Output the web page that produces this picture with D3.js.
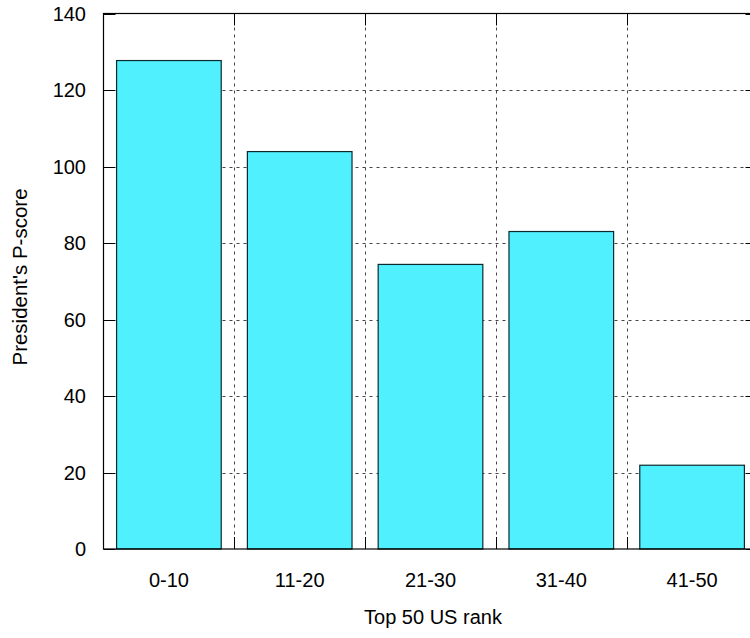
<!DOCTYPE html>
<html><head><meta charset="utf-8">
<script src="https://cdn.jsdelivr.net/npm/d3@7"></script>
<style>body{margin:0;background:#fff}svg{display:block}text{font-family:"Liberation Sans",Arial,sans-serif;fill:#000}</style>
</head><body>
<svg id="c" width="750" height="638"></svg>
<script>
const categories = ["0-10","11-20","21-30","31-40","41-50"];
const values = [127.7, 103.9, 74.4, 83.0, 21.9];
const yTicks = [0,20,40,60,80,100,120,140];
const xTitle = "Top 50 US rank";
const yTitle = "President's P-score";

const svg = d3.select("#c");
const L = 103.5, T = 13.5, B = 549, R = 757.5;
const x = d3.scaleLinear().domain([-0.5, 4.5]).range([L, R]);
const y = d3.scaleLinear().domain([0, 140]).range([B, T]);
const dash = "3,4";
const g = svg.append("g");

// grid
yTicks.slice(1, -1).forEach(t => {
  g.append("line").attr("x1", L).attr("x2", R).attr("y1", Math.round(y(t))+0.5).attr("y2", Math.round(y(t))+0.5)
    .attr("stroke", "#444").attr("stroke-dasharray", dash);
});
d3.range(0.5, 4.5, 1).forEach(t => {
  g.append("line").attr("x1", Math.round(x(t))+0.5).attr("x2", Math.round(x(t))+0.5).attr("y1", T).attr("y2", B)
    .attr("stroke", "#444").attr("stroke-dasharray", dash);
});
// ticks (inward)
yTicks.forEach(t => {
  const yy = Math.round(y(t))+0.5;
  g.append("line").attr("x1", L).attr("x2", L+12).attr("y1", yy).attr("y2", yy).attr("stroke", "#000");
  g.append("line").attr("x1", R-12).attr("x2", R).attr("y1", yy).attr("y2", yy).attr("stroke", "#000");
});
d3.range(0.5, 4.5, 1).forEach(t => {
  const xx = Math.round(x(t))+0.5;
  g.append("line").attr("x1", xx).attr("x2", xx).attr("y1", T).attr("y2", T+12).attr("stroke", "#000");
  g.append("line").attr("x1", xx).attr("x2", xx).attr("y1", B-12).attr("y2", B).attr("stroke", "#000");
});
// bars
g.selectAll("rect.bar").data(values).join("rect").attr("class","bar")
  .attr("x", (d,i) => x(i-0.4)).attr("width", x(0.8)-x(0))
  .attr("y", d => y(d)).attr("height", d => B - y(d))
  .attr("fill", "#50F0FF").attr("stroke", "#0a2a2e").attr("stroke-width", 1.2);
// frame
g.append("rect").attr("x", L).attr("y", T).attr("width", R-L).attr("height", B-T)
  .attr("fill", "none").attr("stroke", "#000").attr("stroke-width", 1.2);
// y tick labels
g.selectAll("text.yt").data(yTicks).join("text").attr("class","yt")
  .attr("x", 86).attr("y", d => y(d)).attr("dy", "0.36em").attr("text-anchor", "end")
  .style("font-size", "20px").text(d => d);
// x labels
g.selectAll("text.xt").data(categories).join("text").attr("class","xt")
  .attr("x", (d,i) => x(i)).attr("y", 587).attr("text-anchor", "middle")
  .style("font-size", "20px").text(d => d);
g.append("text").attr("x", 433).attr("y", 624).attr("text-anchor", "middle").style("font-size", "20px").text(xTitle);
g.append("text").attr("transform", "translate(27,277) rotate(-90)").attr("text-anchor", "middle").style("font-size", "20.5px").text(yTitle);
</script>
</body></html>
